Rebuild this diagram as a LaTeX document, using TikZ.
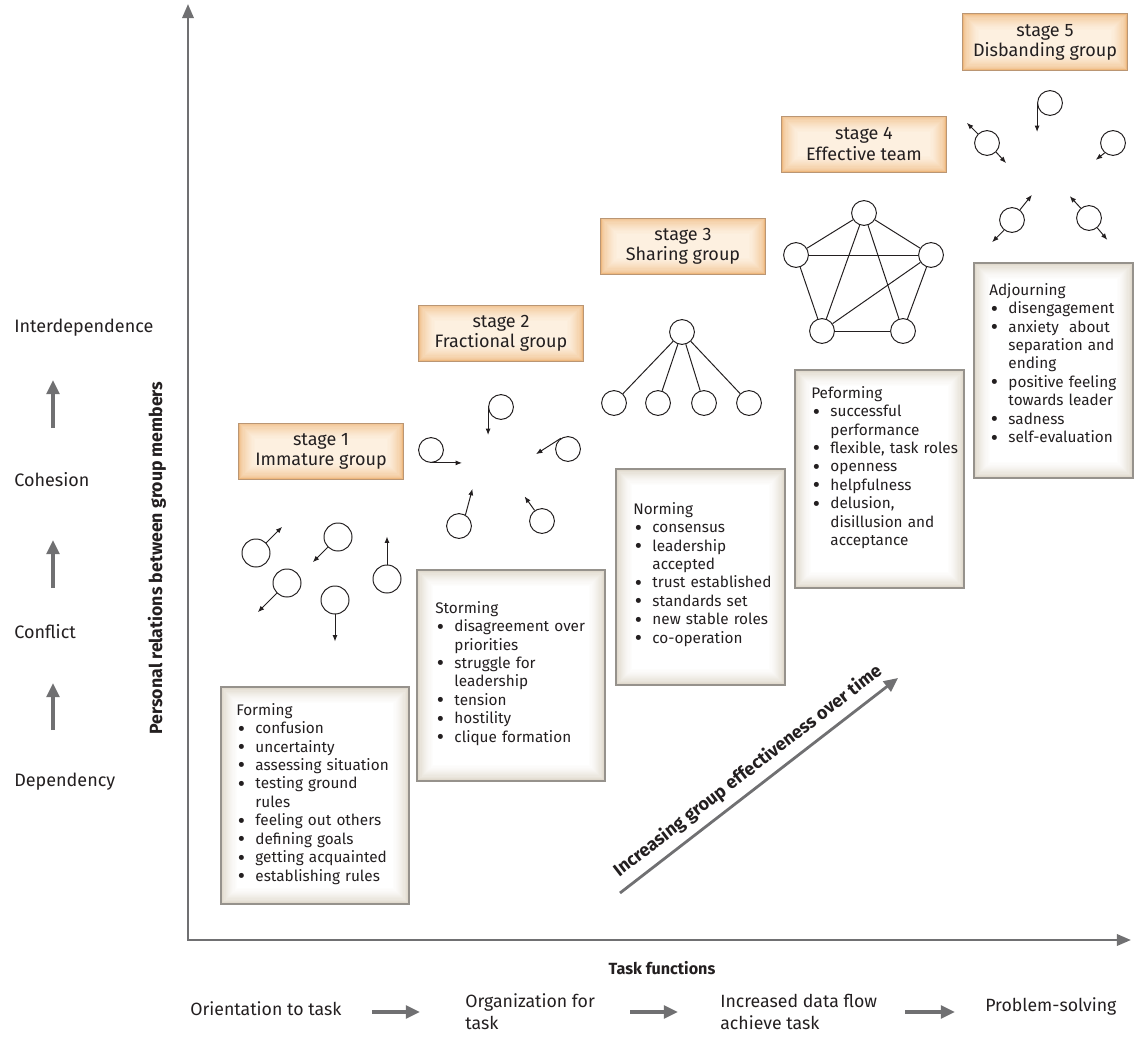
\documentclass[tikz,border=0pt]{standalone}
\usepackage{fontspec}
\setmainfont{Fira Sans}
\usepackage{tikz}
\usetikzlibrary{arrows.meta,positioning,calc}

\definecolor{axisgray}{RGB}{112,112,114}
\definecolor{inkdark}{RGB}{35,31,32}
\definecolor{stagein}{RGB}{253,240,224}
\definecolor{stageout}{RGB}{238,184,126}
\definecolor{stageline}{RGB}{186,150,116}
\definecolor{noteout}{RGB}{214,205,188}
\definecolor{noteline}{RGB}{150,146,140}

\newcommand{\bitem}[1]{\par\hangindent=1.25em\hangafter=1\noindent\makebox[1.25em][l]{\hspace{0.1em}\raisebox{-0.16em}{\scalebox{1.45}{\textbullet}}}#1}

\begin{document}
\begin{tikzpicture}[x=0.025cm, y=-0.025cm, inkdark,
  font=\fontsize{10.9pt}{13.1pt}\selectfont,
  person/.style={circle, draw=inkdark, line width=0.7pt, fill=white, minimum size=0.62cm, inner sep=0pt},
  loner/.style={person, minimum size=0.7cm},
  tail/.style={draw=inkdark, line width=0.7pt, -{Latex[length=4.6pt,width=3.6pt]}},
  link/.style={draw=inkdark, line width=0.7pt},
  glow/.style 2 args={path picture={
    \foreach \k in {0,...,14}{
      \pgfmathsetmacro\pct{100-100*sqrt(\k/14)}
      \fill[#1!\pct!#2] ([shift={(\k*0.8pt,\k*0.8pt)}]path picture bounding box.south west)
        rectangle ([shift={(-\k*0.8pt,-\k*0.8pt)}]path picture bounding box.north east);
    }}},
  stagebox/.style={glow={stageout}{stagein}, draw=stageline, line width=0.7pt, minimum width=4.1cm, minimum height=1.4cm, inner sep=0pt, align=center, font=\fontsize{12.8pt}{14.3pt}\selectfont},
  notebox/.style={glow={noteout}{white}, draw=noteline, line width=0.9pt},
  notetext/.style={anchor=north west, inner sep=0pt, text width=5cm, align=left},
  level/.style={anchor=west, inner sep=0pt, font=\fontsize{12.8pt}{14pt}\selectfont},
  phase/.style={anchor=west, inner sep=0pt, align=left, font=\fontsize{12.6pt}{15.5pt}\selectfont},
  grayarrow/.style={draw=axisgray, line width=2.2pt, -{Triangle[length=10pt,width=9pt]}},
  axisline/.style={draw=axisgray, line width=1.8pt, line join=miter},
  heading/.style={font=\fontsize{12.6pt}{14pt}\selectfont\bfseries},
]
\useasboundingbox (0,0) rectangle (1134,1038);

% axes
\coordinate (origin) at (188,940);
\coordinate (ytop) at (188,4);
\coordinate (xend) at (1131,940);
\draw[axisline, {Triangle[length=10pt,width=8pt]}-{Triangle[length=10pt,width=8pt]}] (ytop) -- (origin) -- (xend);
\node[heading, rotate=90] (ytitle) at (157,558) {Personal relations between group members};
\node[heading, font=\fontsize{11.5pt}{13pt}\selectfont\bfseries] (xtitle) at (662,968) {Task functions};

% relation levels
\node[level] (dep) at (14,782) {Dependency};
\node[level] (conf) at (14,632) {Conflict};
\node[level] (coh) at (14,480) {Cohesion};
\node[level] (inter) at (14,328) {Interdependence};
\draw[grayarrow] ($(dep.west)+(39,-52)$) -- ($(dep.west)+(39,-99)$);
\draw[grayarrow] ($(conf.west)+(39,-44)$) -- ($(conf.west)+(39,-92)$);
\draw[grayarrow] ($(coh.west)+(39,-52)$) -- ($(coh.west)+(39,-100)$);

% task phases
\node[phase] (orient) at (190,1009) {Orientation to task};
\node[phase] (organ) at (465,1012) {Organization for\\task};
\node[phase] (incr) at (720,1012) {Increased data flow\\achieve task};
\node[phase] (solve) at (985,1006) {Problem-solving};
\draw[grayarrow] ($(organ.west)+(-93,0)$) -- ($(organ.west)+(-45,0)$);
\draw[grayarrow] ($(organ.west)+(165,0)$) -- ($(organ.west)+(213,0)$);
\draw[grayarrow] ($(incr.west)+(185,0)$) -- ($(incr.west)+(235,0)$);

% stage labels
\node[stagebox] (stage1) at (321,451) {stage 1\\Immature group};
\node[stagebox] (stage2) at (501,333) {stage 2\\Fractional group};
\node[stagebox] (stage3) at (683,246) {stage 3\\Sharing group};
\node[stagebox] (stage4) at (864,144) {stage 4\\Effective team};
\node[stagebox] (stage5) at (1045,42) {stage 5\\Disbanding group};

% note boxes
\path[notebox] (221,687) rectangle (409,904);
\path[notebox] (417,570) rectangle (605,781);
\path[notebox] (616,469) rectangle (785,685);
\path[notebox] (795,370) rectangle (964,588);
\path[notebox] (974,263) rectangle (1133,478);

\node[notetext] (forming) at (236,703) {Forming
  \bitem{confusion}
  \bitem{uncertainty}
  \bitem{assessing situation}
  \bitem{testing ground\newline rules}
  \bitem{feeling out others}
  \bitem{defining goals}
  \bitem{getting acquainted}
  \bitem{establishing rules}\par};
\node[notetext] (storming) at (435,601) {Storming
  \bitem{disagreement over\newline priorities}
  \bitem{struggle for\newline leadership}
  \bitem{tension}
  \bitem{hostility}
  \bitem{clique formation}\par};
\node[notetext] (norming) at (633,502) {Norming
  \bitem{consensus}
  \bitem{leadership\newline accepted}
  \bitem{trust established}
  \bitem{standards set}
  \bitem{new stable roles}
  \bitem{co-operation}\par};
\node[notetext] (performing) at (811,386) {Peforming
  \bitem{successful\newline performance}
  \bitem{flexible, task roles}
  \bitem{openness}
  \bitem{helpfulness}
  \bitem{delusion,\newline disillusion and\newline acceptance}\par};
\node[notetext] (adjourning) at (989,283) {Adjourning
  \bitem{disengagement}
  \bitem{anxiety\ \ about\newline separation and\newline ending}
  \bitem{positive feeling\newline towards leader}
  \bitem{sadness}
  \bitem{self-evaluation}\par};

% stage 1: loose members
\node[loner] (p11) at (256,553) {};
\node[loner] (p12) at (338,537) {};
\node[loner] (p13) at (287,583) {};
\node[loner] (p14) at (387,579) {};
\node[loner] (p15) at (335,600) {};
\draw[tail] (p11.45) -- ++(16,-16);
\draw[tail] (p12.225) -- ++(-15,15);
\draw[tail] (p13.225) -- ++(-19,19);
\draw[tail] (p14.north) -- ++(0,-28);
\draw[tail] (p15.south) -- ++(0,27);

% stage 2: turning in
\node[person] (p21) at (501,407) {};
\node[person] (p22) at (431,450) {};
\node[person] (p23) at (568,449) {};
\node[person] (p24) at (459,526) {};
\node[person] (p25) at (542,521) {};
\draw[tail] (p21.west) -- ++(0,28);
\draw[tail] (p22.south) -- ++(31,0);
\draw[tail] (p23.123) -- ++(-25,16);
\draw[tail] (p24.60) -- ++(7,-26);
\draw[tail] (p25.125) -- ++(-10,-14);

% stage 3: tree
\node[person] (hub) at (682,332) {};
\foreach \i/\x in {1/614,2/658,3/704,4/749}{
  \node[person] (leaf\i) at (\x,403) {};
  \draw[link] (hub) -- (leaf\i);
}

% stage 4: network
\node[person] (t4) at (864,213) {};
\node[person] (l4) at (796,255) {};
\node[person] (r4) at (931,255) {};
\node[person] (bl4) at (822,331) {};
\node[person] (br4) at (903,331) {};
\foreach \a/\b in {t4/l4, t4/r4, l4/r4, l4/bl4, r4/br4, bl4/br4, t4/bl4, t4/br4, r4/bl4}
  \draw[link] (\a) -- (\b);

% stage 5: moving apart
\node[person] (p51) at (1050,103) {};
\node[person] (p52) at (987,143) {};
\node[person] (p53) at (1113,143) {};
\node[person] (p54) at (1012,220) {};
\node[person] (p55) at (1089,218) {};
\draw[tail] (p51.west) -- ++(0,29);
\draw[tail] (p52.135) -- ++(-11,-11);
\draw[tail] (p52.-45) -- ++(10,11);
\draw[tail] (p53.230) -- ++(-9,7);
\draw[tail] (p54.52) -- ++(12,-15);
\draw[tail] (p54.232) -- ++(-12,12);
\draw[tail] (p55.130) -- ++(-11,-12);
\draw[tail] (p55.-50) -- ++(10,12);

% effectiveness trend
\coordinate (gain0) at (620,893);
\coordinate (gain1) at (898,678);
\draw[grayarrow, line width=2pt] (gain0) -- (gain1)
  node[midway, sloped, above=2pt, inkdark, heading, font=\fontsize{12.8pt}{14pt}\selectfont\bfseries] (gainlabel) {Increasing group effectiveness over time};
\end{tikzpicture}
\end{document}
